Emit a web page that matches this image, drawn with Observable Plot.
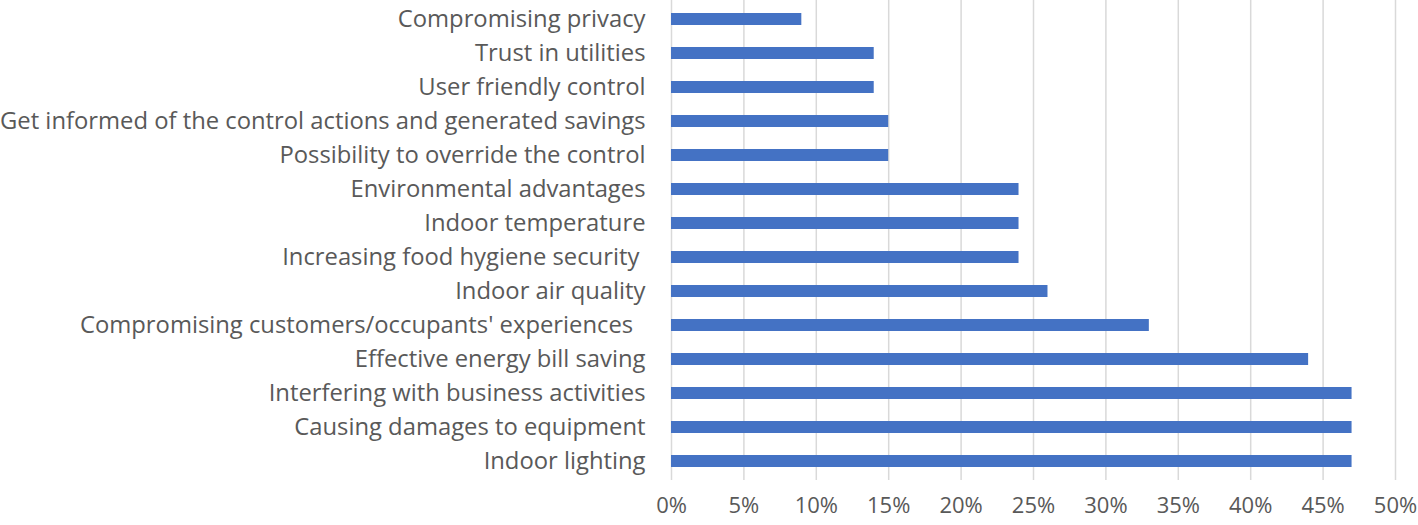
<!DOCTYPE html>
<html>
<head>
<meta charset="utf-8">
<script src="https://cdn.jsdelivr.net/npm/d3@7"></script>
<script src="https://cdn.jsdelivr.net/npm/@observablehq/plot@0.6"></script>
<style>
  html, body { margin: 0; padding: 0; background: #fff; }
  svg text { white-space: pre; }
</style>
</head>
<body>
<div id="chart"></div>
<script>
const categories = [
  "Compromising privacy",
  "Trust in utilities",
  "User friendly control",
  "Get informed of the control actions and generated savings",
  "Possibility to override the control",
  "Environmental advantages",
  "Indoor temperature",
  "Increasing food hygiene security ",
  "Indoor air quality",
  "Compromising customers/occupants' experiences  ",
  "Effective energy bill saving",
  "Interfering with business activities",
  "Causing damages to equipment",
  "Indoor lighting"
];
const values = [0.09, 0.14, 0.14, 0.15, 0.15, 0.24, 0.24, 0.24, 0.26, 0.33, 0.44, 0.47, 0.47, 0.47];
const xTicks = [0, 0.05, 0.10, 0.15, 0.20, 0.25, 0.30, 0.35, 0.40, 0.45, 0.50];

const data = categories.map((c, i) => ({category: c, value: values[i]}));

const chart = Plot.plot({
  width: 1418,
  height: 525,
  marginLeft: 671,
  marginRight: 22,
  marginTop: 0,
  marginBottom: 45,
  style: {fontFamily: "'Open Sans', sans-serif", color: "#595959", background: "#fff"},
  x: {domain: [0, 0.5], range: [671, 1395], label: null},
  y: {domain: categories, paddingInner: 0.64, paddingOuter: 0.32, range: [0, 481], label: null},
  marks: [
    Plot.ruleX(xTicks, {stroke: "#d9d9d9", strokeWidth: 1.5, strokeOpacity: 1}),
    Plot.barX(data, {x: "value", y: "category", fill: "#4472C4"}),
    Plot.axisX({ticks: xTicks, tickFormat: d3.format(".0%"), tickSize: 0, tickPadding: 17, fontSize: 22, anchor: "bottom", label: null}),
    Plot.axisY({tickSize: 0, tickPadding: 26, fontSize: 23.8, anchor: "left", label: null})
  ]
});
document.getElementById("chart").appendChild(chart);
</script>
</body>
</html>
